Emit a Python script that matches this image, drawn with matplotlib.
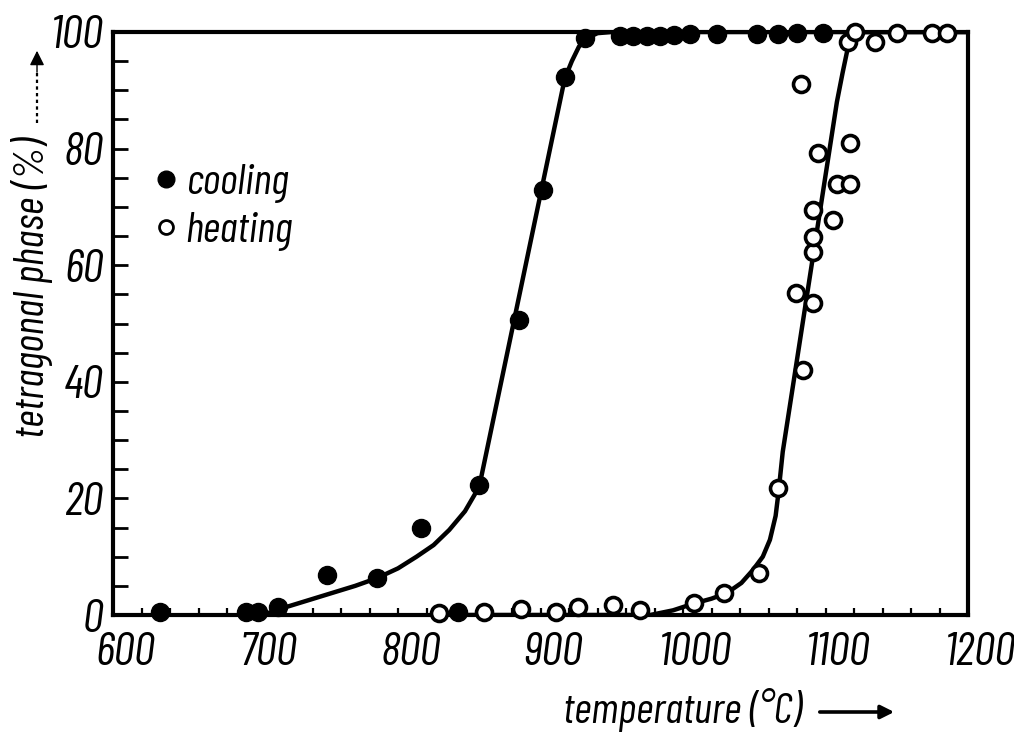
import matplotlib
matplotlib.use("Agg")
import matplotlib.pyplot as plt
import matplotlib.transforms as mtransforms
from matplotlib.ticker import MultipleLocator
from matplotlib.lines import Line2D
from matplotlib.patches import FancyArrowPatch

plt.rcParams['font.family'] = ['Barlow Condensed', 'DejaVu Sans']
plt.rcParams['font.style'] = 'italic'

# measured points: cooling (filled) and heating (open)
cool_T = [633, 693, 702, 716, 750, 785, 816, 842, 857, 885, 902, 917, 931,
          956, 965, 975, 984, 994, 1005, 1024, 1052, 1067, 1080, 1098]
cool_pct = [0.5, 0.5, 0.5, 1.4, 6.9, 6.3, 15.0, 0.5, 22.3, 50.6, 72.9, 92.3, 99.0,
            99.3, 99.3, 99.3, 99.3, 99.5, 99.6, 99.6, 99.7, 99.7, 99.8, 99.8]

heat_T = [829, 860, 886, 911, 926, 951, 970, 1008, 1029, 1053, 1067, 1084, 1079,
          1091, 1091, 1091, 1105, 1091, 1108, 1117, 1095, 1117, 1083, 1116, 1121,
          1135, 1150, 1175, 1185]
heat_pct = [0.3, 0.5, 1.0, 0.5, 1.4, 1.7, 0.9, 2.0, 3.8, 7.2, 21.8, 42.0, 55.2,
            53.5, 62.3, 64.8, 67.8, 69.5, 74.0, 74.0, 79.2, 81.0, 91.0, 98.3, 100.0,
            98.3, 99.8, 99.8, 99.8]

# fitted transformation curves
cool_curve_T = [703, 713, 722, 738, 754, 770, 785, 800, 813, 825, 836, 847, 857,
                917, 922, 927, 933, 940, 950, 1200]
cool_curve_pct = [0, 0.6, 1.4, 2.6, 3.8, 5.0, 6.3, 8.0, 10.0, 12.0, 14.6, 17.8, 22.0,
                  92.0, 95.0, 97.5, 99.0, 99.8, 100, 100]

heat_curve_T = [830, 977, 993, 1008, 1020, 1031, 1041, 1049, 1056, 1061, 1065, 1067,
                1070, 1108, 1112, 1115, 1118, 1125, 1200]
heat_curve_pct = [0, 0, 0.8, 2.0, 2.8, 3.8, 5.5, 7.7, 10.0, 12.9, 17.0, 21.0,
                  28.0, 88.0, 93.0, 96.5, 99.0, 100, 100]

x_ticks = [600, 700, 800, 900, 1000, 1100, 1200]
y_ticks = [0, 20, 40, 60, 80, 100]

fig = plt.figure(figsize=(10.14, 7.38), dpi=100)
ax = fig.add_axes([113 / 1014, 1 - 615 / 738, 855 / 1014, 583 / 738])

curve_style = dict(color='black', lw=3.2, solid_capstyle='round',
                   solid_joinstyle='round', zorder=2)
ax.plot(cool_curve_T, cool_curve_pct, **curve_style)
ax.plot(heat_curve_T, heat_curve_pct, **curve_style)

ax.plot(cool_T, cool_pct, linestyle='none', marker='o', ms=13, mfc='black',
        mec='black', zorder=3, clip_on=False)
ax.plot(heat_T, heat_pct, linestyle='none', marker='o', ms=11.5, mfc='white',
        mec='black', mew=2.6, zorder=4, clip_on=False)

ax.set_xlim(600, 1200)
ax.set_ylim(0, 100)
ax.set_xticks(x_ticks)
ax.set_yticks(y_ticks)
ax.xaxis.set_minor_locator(MultipleLocator(20))
ax.yaxis.set_minor_locator(MultipleLocator(5))
ax.tick_params(axis='x', which='both', direction='in', length=5, width=1.6,
               labelsize=34, pad=12)
ax.tick_params(axis='y', which='both', direction='in', length=11, width=2.0,
               labelsize=34, pad=7)
for sp in ax.spines.values():
    sp.set_linewidth(3.0)

# nudge the slanted x tick labels a little to the right
shift = mtransforms.ScaledTranslation(9 / 72, 0, fig.dpi_scale_trans)
for lbl in ax.get_xticklabels():
    lbl.set_transform(lbl.get_transform() + shift)

# legend
legend_handles = [
    Line2D([], [], linestyle='none', marker='o', ms=12, mfc='black', mec='black'),
    Line2D([], [], linestyle='none', marker='o', ms=10, mfc='white', mec='black', mew=2.0),
]
ax.legend(legend_handles, ['cooling', 'heating'], loc='upper left',
          bbox_to_anchor=(0.022, 0.81), frameon=False, fontsize=31,
          handlelength=0.6, handletextpad=0.15, labelspacing=0.2, borderpad=0)

# axis titles with arrows
fig.text(0.032, 1 - 288 / 738, 'tetragonal phase (%)', rotation=90, ha='center',
         va='center', fontsize=31)
fig.add_artist(Line2D([0.0365, 0.0365], [1 - 123 / 738, 1 - 70 / 738],
                      transform=fig.transFigure, color='black', lw=1.6,
                      linestyle=(0, (1.5, 1.5))))
fig.add_artist(FancyArrowPatch(
    (0.0365, 1 - 75 / 738), (0.0365, 1 - 48 / 738), transform=fig.transFigure,
    arrowstyle='-|>', mutation_scale=22, color='black', lw=1.0))
fig.text(682 / 1014, 1 - 710 / 738, 'temperature (°C)', ha='center', va='center',
         fontsize=31)
fig.add_artist(FancyArrowPatch(
    (817 / 1014, 1 - 712 / 738), (897 / 1014, 1 - 712 / 738),
    transform=fig.transFigure, arrowstyle='-|>', mutation_scale=20,
    color='black', lw=2.6))

fig.savefig('out.png', dpi=100)
